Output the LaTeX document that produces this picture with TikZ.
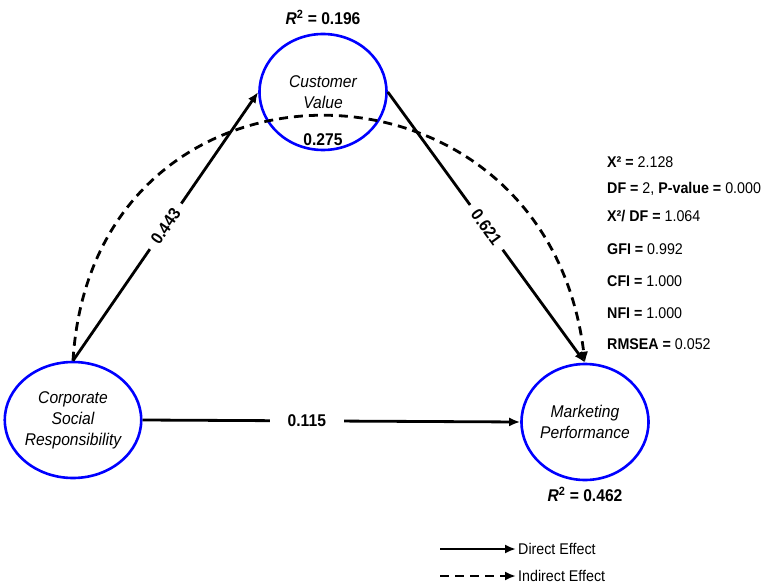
\documentclass[tikz,border=0pt]{standalone}
\usepackage{fontspec}
\setmainfont[FakeStretch=0.92]{Liberation Sans}
\usetikzlibrary{shapes.geometric,positioning,arrows.meta}

\begin{document}
\begin{tikzpicture}[x=1pt, y=-1pt, % 像素坐标, y 轴向下
	latent/.style={ellipse, draw=blue, line width=2.6pt,
		minimum width=127pt, minimum height=116pt, inner sep=0pt,
		align=center, font=\fontsize{17}{21}\selectfont\itshape},
	direct/.style={line width=2.8pt, -{Latex[length=11pt,width=9pt]}},
	indirect/.style={direct, dash pattern=on 9pt off 6pt},
	coef/.style={fill=white, inner xsep=8pt, inner ysep=3pt,
		font=\fontsize{17}{17}\selectfont\bfseries},
	rsq/.style={font=\fontsize{17}{17}\selectfont\bfseries},
	fit/.style={anchor=west, inner sep=0pt, font=\fontsize{15.5}{15.5}\selectfont},
	legtext/.style={anchor=west, inner sep=2pt, font=\fontsize{15.5}{15.5}\selectfont}]
	\useasboundingbox (0, 0) rectangle (762, 585);
	% 三个潜变量
	\node[latent] (csr) at (73, 420) {Corporate\\Social\\Responsibility};
	\node[latent] (cv) at (323, 92) {Customer\\Value};
	\node[latent] (mp) at (585, 422) {Marketing\\Performance};
	\node[rsq, above=4pt of cv] (r2cv) {\textit{R}\textsuperscript{2} = 0.196};
	\node[rsq, below=2pt of mp] (r2mp) {\textit{R}\textsuperscript{2} = 0.462};
	% 间接效应
	\draw[indirect] (csr.north) .. controls +(20, -327) and +(-40, -327) .. (mp.north);
	\node[coef, fill=none] (ind) at (323, 140) {0.275};
	% 直接效应
	\draw[direct] (csr.north) -- (cv.west)
		node[coef, midway, sloped] {0.443};
	\draw[direct] (cv.east) -- (mp.north)
		node[coef, midway, sloped] {0.621};
	\draw[direct] (csr.east) -- (mp.west)
		node[coef, pos=0.435, inner xsep=18pt] {0.115};
	% 拟合指标
	\foreach \y/\txt [count=\i] in {
			162/{\textbf{X² =} 2.128},
			189/{\textbf{DF =} 2, \textbf{P-value =} 0.000},
			216/{\textbf{X²/ DF =} 1.064},
			249/{\textbf{GFI =} 0.992},
			281/{\textbf{CFI =} 1.000},
			313/{\textbf{NFI =} 1.000},
			344/{\textbf{RMSEA =} 0.052}} {
		\node[fit] (fit\i) at (607, \y) {\txt};
	}
	% 图例
	\coordinate (leg1) at (440, 549);
	\coordinate (leg2) at (440, 576);
	\node[legtext] (legd) at (516, 549) {Direct Effect};
	\node[legtext] (legi) at (516, 576) {Indirect Effect};
	\draw[direct, line width=2.2pt] (leg1) -- (legd.west);
	\draw[indirect, line width=2.2pt] (leg2) -- (legi.west);
\end{tikzpicture}
\end{document}
